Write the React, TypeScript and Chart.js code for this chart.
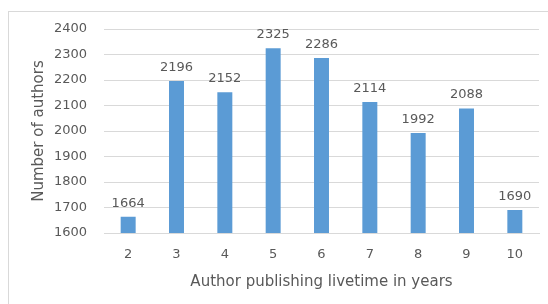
import React, { useEffect, useRef } from "react";
import { Chart, registerables } from "chart.js";

Chart.register(...registerables);

const categories = ["2", "3", "4", "5", "6", "7", "8", "9", "10"];
const authorCounts = [1664, 2196, 2152, 2325, 2286, 2114, 1992, 2088, 1690];
const yTickMin = 1600;
const yTickMax = 2400;
const yTickStep = 100;

const TEXT = "#595959";
const GRID = "#d9d9d9";
const BAR = "#5b9bd5";
const FONT = "'DejaVu Sans', sans-serif";

const valueLabels = {
  id: "valueLabels",
  afterDatasetsDraw(chart: any) {
    const ctx = chart.ctx;
    const meta = chart.getDatasetMeta(0);
    ctx.save();
    ctx.font = `13px ${FONT}`;
    ctx.fillStyle = TEXT;
    ctx.textAlign = "center";
    ctx.textBaseline = "middle";
    meta.data.forEach((el: any, i: number) => {
      ctx.fillText(String(chart.data.datasets[0].data[i]), el.x, el.y - 13.5);
    });
    ctx.restore();
  },
};

export default function App() {
  const ref = useRef<HTMLCanvasElement | null>(null);
  useEffect(() => {
    if (!ref.current) return;
    const chart = new Chart(ref.current, {
      type: "bar",
      data: {
        labels: categories,
        datasets: [
          {
            data: authorCounts,
            backgroundColor: BAR,
            categoryPercentage: 1,
            barPercentage: 0.31,
          },
        ],
      },
      options: {
        animation: false,
        responsive: false,
        maintainAspectRatio: false,
        layout: { padding: { left: 0, top: 29, right: 9, bottom: 0 } },
        plugins: {
          legend: { display: false },
          tooltip: { enabled: false },
        },
        scales: {
          x: {
            afterFit: (s: any) => {
              s.height = 71;
            },
            grid: { display: false, drawTicks: false },
            border: { display: true, color: GRID, width: 1 },
            ticks: { color: TEXT, font: { family: FONT, size: 13 }, padding: 14 },
            title: {
              display: true,
              text: "Author publishing livetime in years",
              color: TEXT,
              font: { family: FONT, size: 15 },
              padding: { top: 0, bottom: 13 },
            },
          },
          y: {
            min: yTickMin,
            max: yTickMax,
            afterFit: (s: any) => {
              s.width = 104;
            },
            grid: { color: GRID, drawTicks: false, lineWidth: 1 },
            border: { display: false },
            ticks: {
              stepSize: yTickStep,
              color: TEXT,
              font: { family: FONT, size: 13 },
              padding: 17,
              callback: (v: any) => String(v),
            },
            title: {
              display: true,
              text: "Number of authors",
              color: TEXT,
              font: { family: FONT, size: 15 },
              padding: { top: 30, bottom: 0 },
            },
          },
        },
      },
      plugins: [valueLabels],
    });
    return () => chart.destroy();
  }, []);

  return (
    <div
      style={{
        position: "fixed",
        left: 0,
        top: 0,
        width: 548,
        height: 304,
        overflow: "hidden",
        background: "#ffffff",
      }}
    >
      <div
        style={{
          position: "absolute",
          left: 8,
          top: 11,
          width: 700,
          height: 500,
          border: `1px solid ${GRID}`,
          boxSizing: "border-box",
        }}
      />
      <canvas
        ref={ref}
        width={548}
        height={304}
        style={{ position: "absolute", left: 0, top: 0, width: 548, height: 304 }}
      />
    </div>
  );
}
